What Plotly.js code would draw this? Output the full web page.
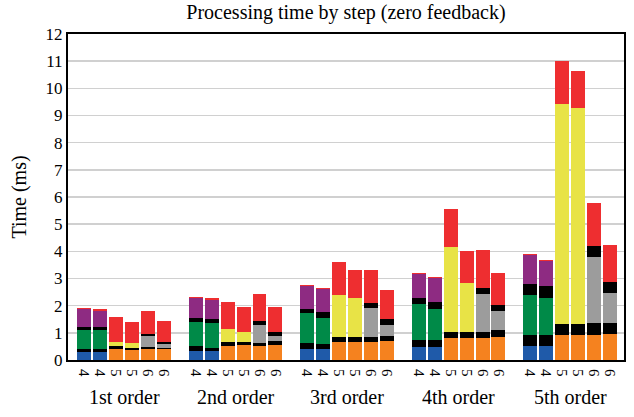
<!DOCTYPE html>
<html><head><meta charset="utf-8">
<script src="https://cdn.plot.ly/plotly-3.0.1.min.js"></script>
<style>html,body{margin:0;padding:0;background:#fff}#chart{width:634px;height:417px}</style>
</head><body><div id="chart"></div>
<script>
// Groups and per-bar labels
var groups = ["1st order", "2nd order", "3rd order", "4th order", "5th order"];
var barLabels = ["4", "4", "5", "5", "6", "6"];

// Stack segments (ms), 6 bars per group, group by group
var stepBase = [0.29,0.29,0.42,0.38,0.42,0.39, 0.33,0.33,0.53,0.55,0.50,0.54, 0.40,0.40,0.66,0.66,0.66,0.70, 0.49,0.49,0.82,0.82,0.82,0.86, 0.51,0.51,0.92,0.92,0.92,0.95];
var stepSync1 = [0.10,0.10,0.10,0.07,0.06,0.06, 0.18,0.13,0.13,0.11,0.12,0.16, 0.21,0.19,0.18,0.18,0.18,0.18, 0.26,0.26,0.22,0.22,0.22,0.25, 0.41,0.41,0.40,0.40,0.44,0.41];
var stepMain = [0.73,0.73,0.15,0.19,0.39,0.14, 0.88,0.90,0.48,0.38,0.66,0.17, 1.11,0.97,1.54,1.43,1.07,0.40, 1.32,1.13,3.12,1.80,1.39,0.70, 1.46,1.35,8.09,7.96,2.42,1.10];
var stepSync2 = [0.10,0.08,0,0,0.07,0.07, 0.15,0.14,0,0,0.14,0.16, 0.17,0.22,0,0,0.18,0.22, 0.22,0.26,0,0,0.22,0.22, 0.43,0.44,0,0,0.40,0.40];
var stepExtra = [0.67,0.62,0,0,0,0, 0.73,0.72,0,0,0,0, 0.84,0.82,0,0,0,0, 0.88,0.88,0,0,0,0, 1.04,0.92,0,0,0,0];
var stepOutput = [0.04,0.04,0.92,0.77,0.87,0.78, 0.04,0.05,0.99,0.90,1.00,0.91, 0.03,0.04,1.21,1.03,1.21,1.07, 0.03,0.04,1.39,1.17,1.40,1.17, 0.05,0.04,1.59,1.36,1.61,1.36];

var colBlue = "#1f5aa9", colOrange = "#f5821f", colBlack = "#000000", colGreen = "#008a48",
    colYellow = "#e8e346", colGray = "#9c9c9c", colPurple = "#8e2b82", colRed = "#ee2e30";

var xs = [], ticktext = [], baseCols = [], midCols = [];
groups.forEach(function(g, gi){
  barLabels.forEach(function(l, i){
    xs.push(gi * 7 + i);
    ticktext.push(l);
    baseCols.push(l === "4" ? colBlue : colOrange);
    midCols.push(l === "4" ? colGreen : (l === "5" ? colYellow : colGray));
  });
});

function tr(y, color, name){
  return {type: "bar", x: xs, y: y, name: name, marker: {color: color, line: {width: 0}}, hoverinfo: "y+name"};
}
var data = [
  tr(stepBase, baseCols, "Step 1"),
  tr(stepSync1, colBlack, "Sync 1"),
  tr(stepMain, midCols, "Step 2"),
  tr(stepSync2, colBlack, "Sync 2"),
  tr(stepExtra, colPurple, "Step 3"),
  tr(stepOutput, colRed, "Output")
];

var font = "Liberation Serif";
var tickFamily = "Times New Roman";
var annotations = groups.map(function(g, gi){
  return {text: g, x: gi * 7 + 2.5, xref: "x", y: -0.113, yref: "paper", yanchor: "middle", xanchor: "center",
          showarrow: false, font: {family: font, size: 20, color: "#000"}};
});

var layout = {
  width: 634, height: 417,
  margin: {l: 68, r: 10, t: 34, b: 57, pad: 0},
  paper_bgcolor: "#fff", plot_bgcolor: "#fff",
  barmode: "stack", bargap: 0.125,
  showlegend: false,
  font: {family: font, color: "#000"},
  title: {text: "Processing time by step (zero feedback)", x: 0.5, xref: "paper", xanchor: "center", y: 0.972, yanchor: "middle", yref: "container",
          font: {family: font, size: 20, color: "#000"}},
  xaxis: {range: [-1.02, 33.88], tickmode: "array", tickvals: xs, ticktext: ticktext, tickangle: 90,
          tickfont: {family: tickFamily, size: 15, color: "#000"}, ticklabelstandoff: 4, showgrid: false, zeroline: false,
          showline: true, linecolor: "#000", linewidth: 2, mirror: true, ticks: "", fixedrange: true},
  yaxis: {range: [0, 12], dtick: 1, tick0: 0, showgrid: true, gridcolor: "#d0d0d0", gridwidth: 1.5,
          zeroline: false, showline: true, linecolor: "#000", linewidth: 2, mirror: true, ticks: "",
          tickfont: {family: tickFamily, size: 17, color: "#000"}, ticklen: 0,
          title: {text: "Time (ms)", font: {family: font, size: 20, color: "#000"}, standoff: 14}},
  annotations: annotations
};
Plotly.newPlot("chart", data, layout, {displayModeBar: false, staticPlot: true});
</script></body></html>
